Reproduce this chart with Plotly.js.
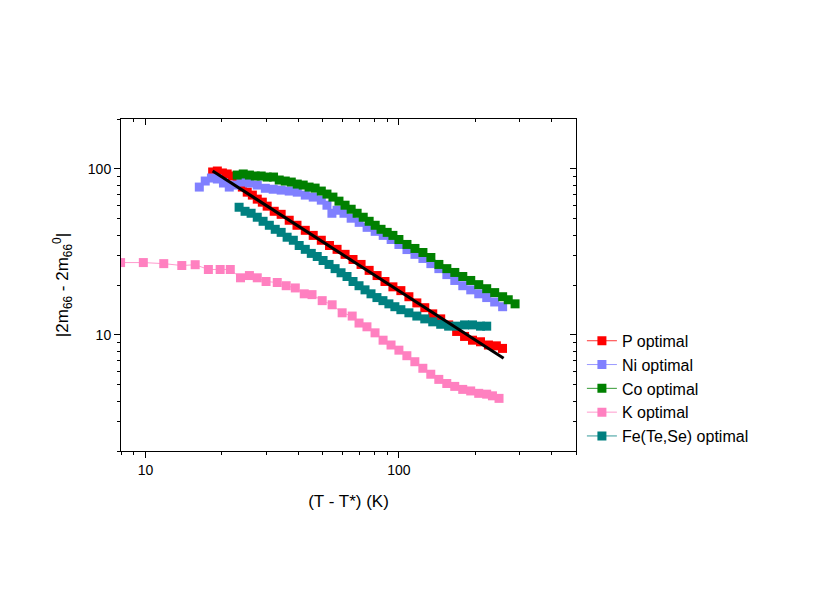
<!DOCTYPE html>
<html>
<head>
<meta charset="utf-8">
<script src="https://cdn.plot.ly/plotly-3.0.1.min.js"></script>
<style>
  html, body { margin: 0; padding: 0; background: #fff; }
  #chart { width: 817px; height: 613px; }
</style>
</head>
<body>
<div id="chart"></div>
<script>
// P optimal
const pX = [18.4, 19.2, 20.1, 21.0, 22.0, 23.0, 24.1, 25.2, 26.4, 27.6, 28.9, 30.2, 32.2, 34.3, 36.9, 39.6,
            42.7, 45.9, 49.4, 53.2, 57.0, 61.3, 65.9, 70.9, 76.3, 82.0, 88.1, 94.7, 101.8, 109.5, 117.7,
            126.5, 136.0, 146.2, 157.2, 169.0, 181.6, 195.2, 209.9, 225.6, 242.5, 256.4];
const pY = [95.9, 97.2, 94.6, 93.3, 90.7, 84.6, 77.8, 72.5, 69.6, 65.8, 63.1, 59.7, 55.6, 53.3, 49.1, 45.8,
            42.7, 39.8, 37.2, 34.6, 32.8, 30.6, 28.5, 26.6, 24.5, 22.8, 21.0, 19.5, 18.5, 17.0, 15.6,
            14.6, 13.4, 12.5, 11.5, 10.5, 9.8, 9.3, 9.1, 8.7, 8.6, 8.3];

// Ni optimal
const niX = [16.3, 17.2, 18.2, 19.2, 20.3, 21.4, 22.6, 23.8, 25.7, 27.6, 29.7, 31.9, 34.3, 36.9, 39.7, 42.7,
             45.9, 49.4, 52.0, 54.4, 57.0, 60.7, 64.8, 69.7, 74.9, 80.6, 86.7, 93.2, 100, 107.6, 115.7,
             124.4, 133.7, 143.8, 154.6, 166.2, 178.7, 192.1, 206.6, 222.1, 238.8, 256.7];
const niY = [77.8, 84.6, 88.2, 87.0, 82.3, 77.8, 80.0, 83.4, 82.3, 80.0, 76.5, 75.5, 74.6, 73.6, 72.5, 69.6,
             67.7, 64.9, 60.5, 54.1, 56.4, 54.1, 50.5, 47.7, 44.5, 42.1, 39.8, 37.6, 35.1, 32.7, 30.6,
             28.9, 26.9, 25.1, 23.1, 21.3, 19.8, 18.7, 17.7, 16.8, 15.8, 14.8];

// Co optimal
const coX = [23.0, 24.3, 25.7, 27.1, 28.6, 30.2, 32.0, 33.7, 35.6, 37.6, 39.7, 41.9, 44.2, 46.7, 49.4, 52.0,
             54.9, 58.0, 61.3, 64.8, 68.4, 72.3, 76.3, 80.6, 85.0, 89.9, 94.7, 100, 107.6, 115.7, 124.4,
             133.7, 143.8, 154.6, 166.2, 178.7, 192.1, 206.6, 222.1, 238.8, 256.7, 270.1, 287.4];
const coY = [91.9, 93.3, 91.9, 90.7, 90.7, 89.4, 89.4, 85.8, 84.6, 83.4, 81.1, 80.0, 77.8, 76.7, 73.6, 70.6,
             67.7, 64.0, 60.5, 57.2, 54.1, 51.2, 48.4, 45.8, 43.3, 41.5, 39.8, 37.6, 35.1, 33.2, 31.4,
             29.3, 26.6, 25.1, 23.8, 22.5, 21.3, 20.1, 19.0, 18.0, 17.0, 16.3, 15.4];

// K optimal
const kX = [7.97, 9.8, 11.8, 13.9, 15.7, 17.7, 19.7, 21.6, 23.7, 25.7, 27.6, 29.9, 33.1, 35.9, 39.0, 42.3,
            45.4, 49.8, 54.5, 59.7, 65.4, 69.6, 74.8, 80.5, 86.6, 93.1, 100, 107.5, 115.6, 124.3, 133.6,
            143.7, 154.5, 166.1, 178.6, 192.0, 206.5, 222.0, 234.0, 248.4];
const kY = [27.3, 27.3, 26.9, 26.2, 26.5, 24.8, 24.8, 24.8, 22.1, 22.8, 22.1, 21.0, 20.7, 19.8, 19.2, 17.7,
            17.5, 16.1, 15.2, 13.6, 13.0, 11.8, 11.2, 10.3, 9.3, 8.7, 8.1, 7.5, 6.9, 6.3, 5.8,
            5.4, 5.1, 4.9, 4.7, 4.6, 4.45, 4.4, 4.3, 4.15];

// Fe(Te,Se) optimal
const feX = [23.4, 24.7, 26.1, 27.6, 29.1, 30.8, 32.5, 34.3, 36.2, 38.3, 40.4, 42.7, 45.1, 47.6, 50.2, 53.0,
             56.0, 59.1, 62.4, 65.9, 69.6, 73.5, 77.6, 81.9, 86.5, 91.3, 96.4, 101.8, 109.5, 117.7, 126.5,
             136.0, 146.2, 157.2, 169.0, 181.6, 195.2, 209.9, 222.1];
const feY = [58.8, 55.6, 54.1, 51.2, 48.4, 45.8, 43.3, 41.5, 38.8, 37.2, 34.6, 32.8, 31.0, 29.7, 28.1, 26.6,
             25.1, 23.7, 22.5, 21.0, 19.8, 18.7, 17.7, 16.8, 16.1, 15.4, 14.8, 14.2, 13.6, 13.0, 12.5,
             12.0, 11.6, 11.3, 11.3, 11.5, 11.5, 11.3, 11.3];

// power-law fit through P optimal
const fitX = [18.4, 259];
const fitY = [97.2, 7.25];

const xMajor = [10, 100];
const xMinor = [8, 9, 20, 30, 40, 50, 60, 70, 80, 90, 200, 300, 400, 500];
const yMajor = [10, 100];
const yMinor = [2, 3, 4, 5, 6, 7, 8, 9, 20, 30, 40, 50, 60, 70, 80, 90, 200];

const FONT = 'Arial, "Liberation Sans", sans-serif';

function series(name, x, y, color) {
    return {
        x: x, y: y, name: name,
        type: 'scatter', mode: 'lines+markers',
        line: { color: color, width: 0.8 },
        marker: { symbol: 'square', size: 9, color: color },
        hoverinfo: 'x+y+name'
    };
}

const traces = [
    series('P optimal', pX, pY, '#ff0000'),
    series('Ni optimal', niX, niY, '#8080ff'),
    series('Co optimal', coX, coY, '#008000'),
    series('K optimal', kX, kY, '#ff80c0'),
    series('Fe(Te,Se) optimal', feX, feY, '#008080'),
    {
        x: fitX, y: fitY, type: 'scatter', mode: 'lines',
        line: { color: '#000000', width: 3 },
        showlegend: false, hoverinfo: 'skip'
    },
    // empty trace so the top/right axes get drawn
    { x: [], y: [], xaxis: 'x2', yaxis: 'y2', type: 'scatter', showlegend: false, hoverinfo: 'skip' }
];

const xRange = [Math.log10(8), Math.log10(500)];
const yRange = [Math.log10(2), Math.log10(200)];

const layout = {
    width: 817, height: 613,
    margin: { l: 121, r: 241, t: 119, b: 162 },
    paper_bgcolor: '#ffffff', plot_bgcolor: '#ffffff',
    font: { family: FONT, size: 14, color: '#000000' },
    showlegend: true,
    legend: {
        x: 1.013, y: 0.383, xanchor: 'left', yanchor: 'top',
        font: { family: FONT, size: 16, color: '#000000' },
        bgcolor: 'rgba(0,0,0,0)', borderwidth: 0
    },
    xaxis: {
        type: 'log', range: xRange,
        showgrid: false, zeroline: false,
        showline: true, linecolor: '#000', linewidth: 1,
        ticks: 'outside', ticklen: 6, tickwidth: 1, tickcolor: '#000',
        tickvals: xMajor, ticktext: xMajor.map(String),
        tickfont: { family: FONT, size: 14 },
        minor: { tickvals: xMinor, ticks: 'outside', ticklen: 3, tickwidth: 1, tickcolor: '#000', showgrid: false },
        title: { text: '(T - T*) (K)', font: { family: FONT, size: 17 }, standoff: 18 }
    },
    yaxis: {
        type: 'log', range: yRange,
        showgrid: false, zeroline: false,
        showline: true, linecolor: '#000', linewidth: 1,
        ticks: 'outside', ticklen: 6, tickwidth: 1, tickcolor: '#000',
        tickvals: yMajor, ticktext: yMajor.map(String),
        tickfont: { family: FONT, size: 14 },
        minor: { tickvals: yMinor, ticks: 'outside', ticklen: 3, tickwidth: 1, tickcolor: '#000', showgrid: false },
        title: { text: '|2m<sub>66</sub> - 2m<sub>66</sub><sup>0</sup>|', font: { family: FONT, size: 17 }, standoff: 14 }
    },
    xaxis2: {
        type: 'log', range: xRange, overlaying: 'x', side: 'top', anchor: 'y2',
        showgrid: false, zeroline: false, showticklabels: false,
        showline: true, linecolor: '#000', linewidth: 1,
        ticks: 'inside', ticklen: 6, tickwidth: 1, tickcolor: '#000',
        tickvals: xMajor,
        minor: { tickvals: xMinor, ticks: 'inside', ticklen: 3, tickwidth: 1, tickcolor: '#000', showgrid: false }
    },
    yaxis2: {
        type: 'log', range: yRange, overlaying: 'y', side: 'right', anchor: 'x2',
        showgrid: false, zeroline: false, showticklabels: false,
        showline: true, linecolor: '#000', linewidth: 1,
        ticks: 'inside', ticklen: 6, tickwidth: 1, tickcolor: '#000',
        tickvals: yMajor,
        minor: { tickvals: yMinor, ticks: 'inside', ticklen: 3, tickwidth: 1, tickcolor: '#000', showgrid: false }
    }
};

Plotly.newPlot('chart', traces, layout, { displayModeBar: false, staticPlot: true });
</script>
</body>
</html>
